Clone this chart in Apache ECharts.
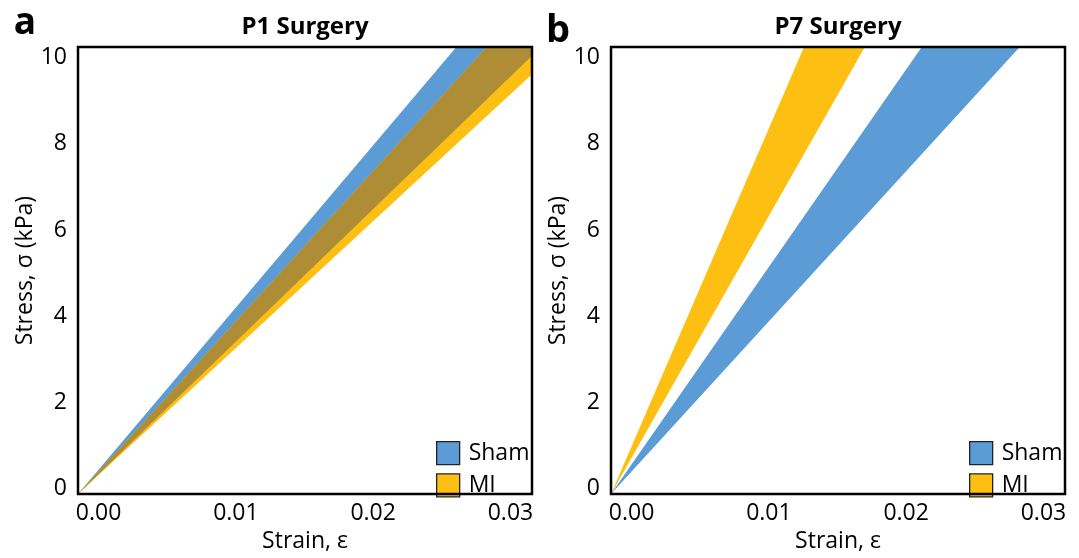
<!DOCTYPE html>
<html><head><meta charset="utf-8">
<script src="https://cdn.jsdelivr.net/npm/echarts@6/dist/echarts.min.js"></script>
<style>html,body{margin:0;padding:0;background:#fff}#c{width:1079px;height:558px}</style>
</head><body><div id="c"></div>
<script>
// ---- data ----
const panelTitles = ['P1 Surgery', 'P7 Surgery'];
const panelLetters = ['a', 'b'];
const seriesNames = ['Sham', 'MI'];
const xTickValues = [0.00, 0.01, 0.02, 0.03];
const yTickValues = [0, 2, 4, 6, 8, 10];
// band edges as linear moduli (kPa per unit strain): [lower, upper]
const shamP1 = [308, 377];
const miP1 = [295, 349];
const shamP7 = [349, 459];
const miP7 = [562, 739];
const bands = [[shamP1, miP1], [shamP7, miP7]];

// ---- style / layout ----
const FONT = '"Open Sans", "DejaVu Sans", sans-serif';
const BLUE = '#5b9cd6', YELLOW = '#fdc012', OLIVE = '#ae8d36';
const XMAX = 0.03307, YMAX = 10.39; // data range of the plotting frame
const gridsPos = [{left: 78, top: 47, width: 454, height: 453}, {left: 611, top: 47, width: 454, height: 453}];

function exitPt(k) { return k * XMAX <= YMAX ? [XMAX, k * XMAX] : [YMAX / k, YMAX]; }
function wedge(kLow, kHigh) {
  const pts = [[0, 0], exitPt(kHigh)];
  if (kHigh * XMAX > YMAX && kLow * XMAX < YMAX) pts.push([XMAX, YMAX]);
  pts.push(exitPt(kLow));
  return pts;
}
function polySeries(name, pts, color, gi) {
  return {
    type: 'custom', name: name, xAxisIndex: 2 * gi + 1, yAxisIndex: 2 * gi + 1,
    itemStyle: {color: color}, silent: true, z: 2,
    data: pts,
    renderItem: function (params, api) {
      if (params.dataIndex !== 0) return null;
      return {type: 'polygon', shape: {points: pts.map(p => api.coord(p))}, style: {fill: color}};
    }
  };
}

const grid = [], xAxis = [], yAxis = [], series = [], legend = [];
bands.forEach(function (b, i) {
  const sham = b[0], mi = b[1];
  grid.push(Object.assign({show: true, borderColor: '#000', borderWidth: 2.5, backgroundColor: 'transparent', z: 5}, gridsPos[i]));
  xAxis.push({
    gridIndex: i, type: 'value', min: -0.0015, max: -0.0015 + XMAX,
    axisLine: {show: false}, axisTick: {show: false}, splitLine: {show: false},
    axisLabel: {customValues: xTickValues, formatter: v => v.toFixed(2), fontSize: 23, color: '#000', fontFamily: FONT, margin: 8},
    name: 'Strain, ε', nameLocation: 'middle', nameGap: 34,
    nameTextStyle: {fontSize: 23, color: '#000', fontFamily: FONT}
  });
  xAxis.push({gridIndex: i, type: 'value', min: 0, max: XMAX, show: false});
  yAxis.push({
    gridIndex: i, type: 'value', min: -0.138, max: -0.138 + YMAX,
    axisLine: {show: false}, axisTick: {show: false}, splitLine: {show: false},
    axisLabel: {customValues: yTickValues, formatter: v => String(Math.round(v)), fontSize: 23, color: '#000', fontFamily: FONT, margin: 11},
    name: 'Stress, σ (kPa)', nameLocation: 'middle', nameGap: 40,
    nameTextStyle: {fontSize: 23, color: '#000', fontFamily: FONT}
  });
  yAxis.push({gridIndex: i, type: 'value', min: 0, max: YMAX, show: false});

  series.push(polySeries(seriesNames[0], wedge(sham[0], sham[1]), BLUE, i));
  series.push(polySeries(seriesNames[1], wedge(mi[0], mi[1]), YELLOW, i));
  const lo = Math.max(sham[0], mi[0]), hi = Math.min(sham[1], mi[1]);
  if (lo < hi) series.push(polySeries('overlap', wedge(lo, hi), OLIVE, i));

  const g = gridsPos[i];
  legend.push({
    left: g.left + g.width - 96, top: 441, orient: 'vertical', padding: 0, itemGap: 8,
    itemWidth: 23, itemHeight: 23, icon: 'rect', selectedMode: false,
    textStyle: {fontSize: 23, color: '#000', fontFamily: FONT, padding: [0, 0, 0, 4], lineHeight: 24},
    data: [
      {name: seriesNames[0], itemStyle: {color: BLUE, borderColor: '#222', borderWidth: 1.3}},
      {name: seriesNames[1], itemStyle: {color: YELLOW, borderColor: '#222', borderWidth: 1.3}}
    ]
  });
});
const gfx = [];
panelTitles.forEach(function (t, i) {
  const g = gridsPos[i];
  gfx.push({type: 'text', x: g.left + g.width / 2, y: 27, style: {text: t, font: 'bold 24px ' + FONT, fill: '#000', align: 'center', verticalAlign: 'middle'}});
});
gfx.push({type: 'text', x: 25, y: 23.5, style: {text: panelLetters[0], font: 'bold 37px ' + FONT, fill: '#000', align: 'center', verticalAlign: 'middle'}});
gfx.push({type: 'text', x: 558, y: 31, style: {text: panelLetters[1], font: 'bold 38px ' + FONT, fill: '#000', align: 'center', verticalAlign: 'middle'}});

const chart = echarts.init(document.getElementById('c'), null, {renderer: 'canvas'});
chart.setOption({
  animation: false, backgroundColor: '#fff',
  grid: grid, xAxis: xAxis, yAxis: yAxis, series: series, legend: legend,
  graphic: {elements: gfx}
});
</script></body></html>
